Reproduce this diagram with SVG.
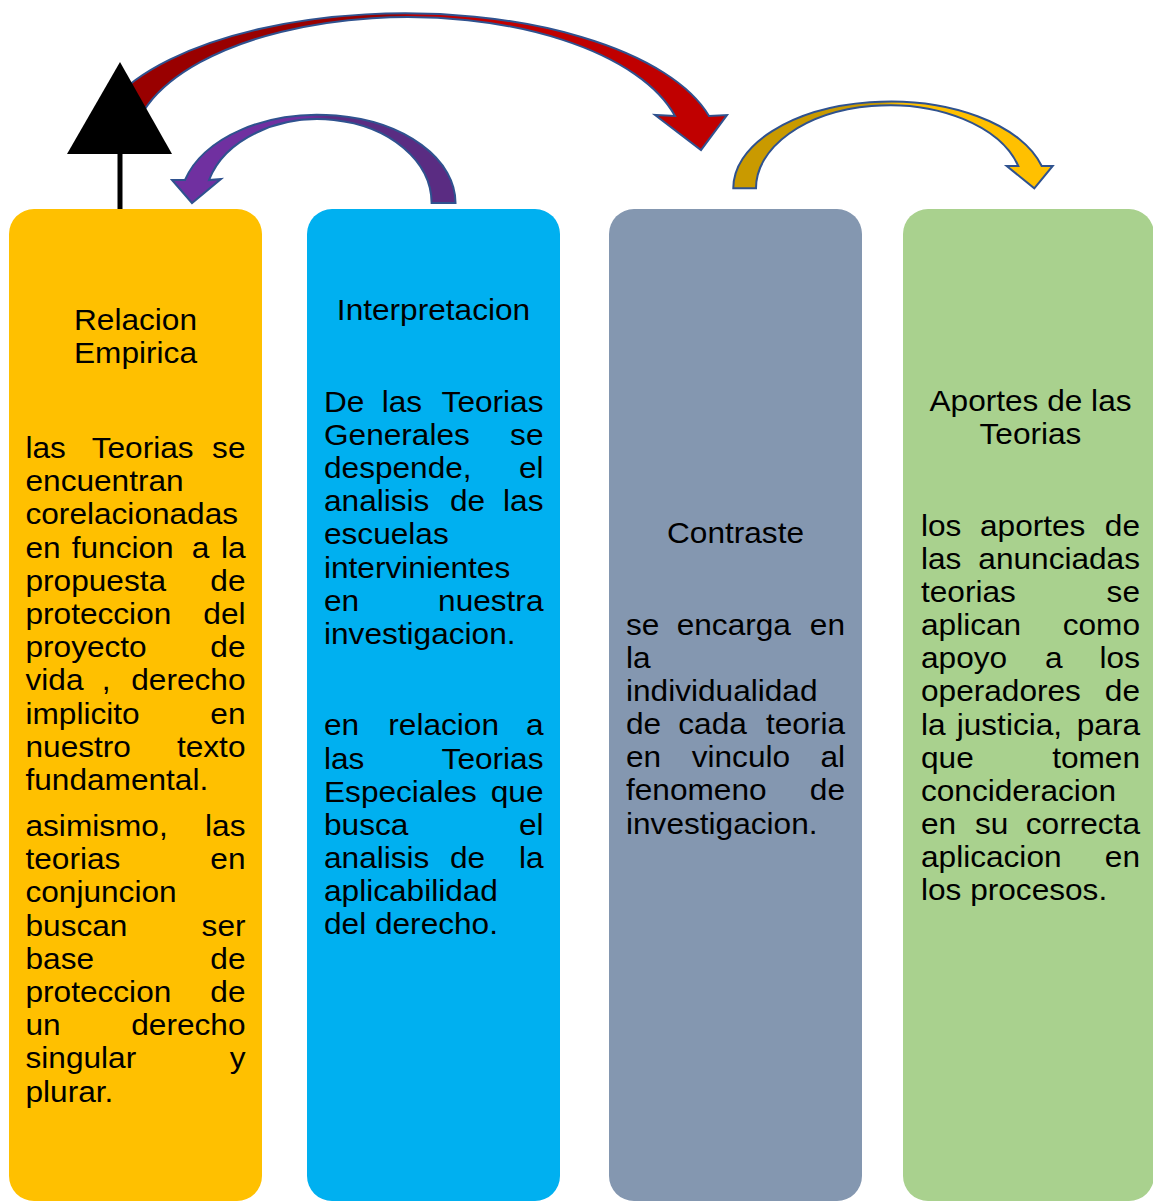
<svg xmlns="http://www.w3.org/2000/svg" width="1153" height="1201" viewBox="0 0 1153 1201">
<defs>
<style>
.t{font-family:"Liberation Sans",Arial,sans-serif;font-size:29px;fill:#000}
.e{text-anchor:end}
.m{text-anchor:middle}
.arr{stroke:#2F528F;stroke-width:2;stroke-linejoin:miter}
</style>
<linearGradient id="gRed" gradientUnits="userSpaceOnUse" x1="395" y1="0" x2="415" y2="0"><stop offset="0" stop-color="#990000"/><stop offset="1" stop-color="#C00000"/></linearGradient>
<linearGradient id="gPur" gradientUnits="userSpaceOnUse" x1="305" y1="0" x2="330" y2="0"><stop offset="0" stop-color="#7030A0"/><stop offset="1" stop-color="#5A2C82"/></linearGradient>
<linearGradient id="gGold" gradientUnits="userSpaceOnUse" x1="880" y1="0" x2="900" y2="0"><stop offset="0" stop-color="#C99A00"/><stop offset="1" stop-color="#FFC000"/></linearGradient>
</defs>
<rect width="1153" height="1201" fill="#FFFFFF"/>

<g id="connectors">
<path class="arr" fill="url(#gRed)" d="M91,150 A314 137 0 0 1 709,116 L727,115 L701,150 L655,115 L675,116 A276.4 133 0 0 0 131.4,150 Z"/>
<path class="arr" fill="url(#gPur)" d="M455.5,203 A137.6 88 0 0 0 185,180 L172,180 L192,203 L221,179 L209,180 A113.5 84 0 0 1 431.6,203 Z"/>
<path class="arr" fill="url(#gGold)" d="M733.3,188.3 A156.8 86.6 0 0 1 1041.7,166 L1052.7,166 L1034.3,188.3 L1006.7,166 L1018.3,166 A133.6 83 0 0 0 756,188.3 Z"/>
<line x1="120" y1="150" x2="120" y2="211" stroke="#000" stroke-width="5"/>
<polygon points="120,62 172,154 67,154" fill="#000"/>
</g>

<g id="node-relacion">
<rect x="9" y="209" width="253" height="992" rx="25" ry="25" fill="#FFC000"/>
<g class="t" transform="scale(1.09,1)">
<text class="m" x="124.31" y="330">Relacion</text>
<text class="m" x="124.31" y="363">Empirica</text>
<text x="23.39" y="458">las</text><text x="84.13" y="458">Teorias</text><text class="e" x="225.23" y="458">se</text>
<text x="23.39" y="491.2">encuentran</text>
<text x="23.39" y="524.4">corelacionadas</text>
<text x="23.39" y="557.6">en</text><text x="65.78" y="557.6">funcion</text><text x="175.87" y="557.6">a</text><text class="e" x="225.23" y="557.6">la</text>
<text x="23.39" y="590.8">propuesta</text><text class="e" x="225.23" y="590.8">de</text>
<text x="23.39" y="624">proteccion</text><text class="e" x="225.23" y="624">del</text>
<text x="23.39" y="657.2">proyecto</text><text class="e" x="225.23" y="657.2">de</text>
<text x="23.39" y="690.4">vida</text><text x="93.3" y="690.4">,</text><text class="e" x="225.23" y="690.4">derecho</text>
<text x="23.39" y="723.6">implicito</text><text class="e" x="225.23" y="723.6">en</text>
<text x="23.39" y="756.8">nuestro</text><text class="e" x="225.23" y="756.8">texto</text>
<text x="23.39" y="790">fundamental.</text>
<text x="23.39" y="836">asimismo,</text><text class="e" x="225.23" y="836">las</text>
<text x="23.39" y="869.2">teorias</text><text class="e" x="225.23" y="869.2">en</text>
<text x="23.39" y="902.4">conjuncion</text>
<text x="23.39" y="935.6">buscan</text><text class="e" x="225.23" y="935.6">ser</text>
<text x="23.39" y="968.8">base</text><text class="e" x="225.23" y="968.8">de</text>
<text x="23.39" y="1002">proteccion</text><text class="e" x="225.23" y="1002">de</text>
<text x="23.39" y="1035.2">un</text><text class="e" x="225.23" y="1035.2">derecho</text>
<text x="23.39" y="1068.4">singular</text><text class="e" x="225.23" y="1068.4">y</text>
<text x="23.39" y="1101.6">plurar.</text>
</g>
</g>

<g id="node-interpretacion">
<rect x="307" y="209" width="253" height="992" rx="25" ry="25" fill="#00B0F0"/>
<g class="t" transform="scale(1.09,1)">
<text class="m" x="397.71" y="320.5">Interpretacion</text>
<text x="297.25" y="411.7">De</text><text x="350.18" y="411.7">las</text><text class="e" x="498.62" y="411.7">Teorias</text>
<text x="297.25" y="444.9">Generales</text><text class="e" x="498.62" y="444.9">se</text>
<text x="297.25" y="478.1">despende,</text><text class="e" x="498.62" y="478.1">el</text>
<text x="297.25" y="511.3">analisis</text><text x="412.84" y="511.3">de</text><text class="e" x="498.62" y="511.3">las</text>
<text x="297.25" y="544.5">escuelas</text>
<text x="297.25" y="577.7">intervinientes</text>
<text x="297.25" y="610.9">en</text><text class="e" x="498.62" y="610.9">nuestra</text>
<text x="297.25" y="644.1">investigacion.</text>
<text x="297.25" y="735.5">en</text><text x="356.24" y="735.5">relacion</text><text class="e" x="498.62" y="735.5">a</text>
<text x="297.25" y="768.6">las</text><text class="e" x="498.62" y="768.6">Teorias</text>
<text x="297.25" y="801.7">Especiales</text><text class="e" x="498.62" y="801.7">que</text>
<text x="297.25" y="834.8">busca</text><text class="e" x="498.62" y="834.8">el</text>
<text x="297.25" y="867.9">analisis</text><text x="412.84" y="867.9">de</text><text class="e" x="498.62" y="867.9">la</text>
<text x="297.25" y="901">aplicabilidad</text>
<text x="297.25" y="934.1">del derecho.</text>
</g>
</g>

<g id="node-contraste">
<rect x="609" y="209" width="253" height="992" rx="25" ry="25" fill="#8497B0"/>
<g class="t" transform="scale(1.09,1)">
<text class="m" x="674.77" y="543">Contraste</text>
<text x="574.31" y="635">se</text><text x="620.83" y="635">encarga</text><text class="e" x="775.23" y="635">en</text>
<text x="574.31" y="668.1">la</text>
<text x="574.31" y="701.2">individualidad</text>
<text x="574.31" y="734.3">de</text><text x="622.29" y="734.3">cada</text><text class="e" x="775.23" y="734.3">teoria</text>
<text x="574.31" y="767.4">en</text><text x="634.59" y="767.4">vinculo</text><text class="e" x="775.23" y="767.4">al</text>
<text x="574.31" y="800.5">fenomeno</text><text class="e" x="775.23" y="800.5">de</text>
<text x="574.31" y="833.6">investigacion.</text>
</g>
</g>

<g id="node-aportes">
<rect x="903" y="209" width="251" height="992" rx="25" ry="25" fill="#A9D18E"/>
<g class="t" transform="scale(1.09,1)">
<text class="m" x="945.41" y="411">Aportes de las</text>
<text class="m" x="945.41" y="444">Teorias</text>
<text x="844.95" y="536">los</text><text x="899.08" y="536">aportes</text><text class="e" x="1045.87" y="536">de</text>
<text x="844.95" y="569.1">las</text><text class="e" x="1045.87" y="569.1">anunciadas</text>
<text x="844.95" y="602.2">teorias</text><text class="e" x="1045.87" y="602.2">se</text>
<text x="844.95" y="635.3">aplican</text><text class="e" x="1045.87" y="635.3">como</text>
<text x="844.95" y="668.4">apoyo</text><text x="958.72" y="668.4">a</text><text class="e" x="1045.87" y="668.4">los</text>
<text x="844.95" y="701.5">operadores</text><text class="e" x="1045.87" y="701.5">de</text>
<text x="844.95" y="734.6">la</text><text x="877.71" y="734.6">justicia,</text><text class="e" x="1045.87" y="734.6">para</text>
<text x="844.95" y="767.7">que</text><text class="e" x="1045.87" y="767.7">tomen</text>
<text x="844.95" y="800.8">concideracion</text>
<text x="844.95" y="833.9">en</text><text x="894.5" y="833.9">su</text><text class="e" x="1045.87" y="833.9">correcta</text>
<text x="844.95" y="867">aplicacion</text><text class="e" x="1045.87" y="867">en</text>
<text x="844.95" y="900.1">los procesos.</text>
</g>
</g>
</svg>
